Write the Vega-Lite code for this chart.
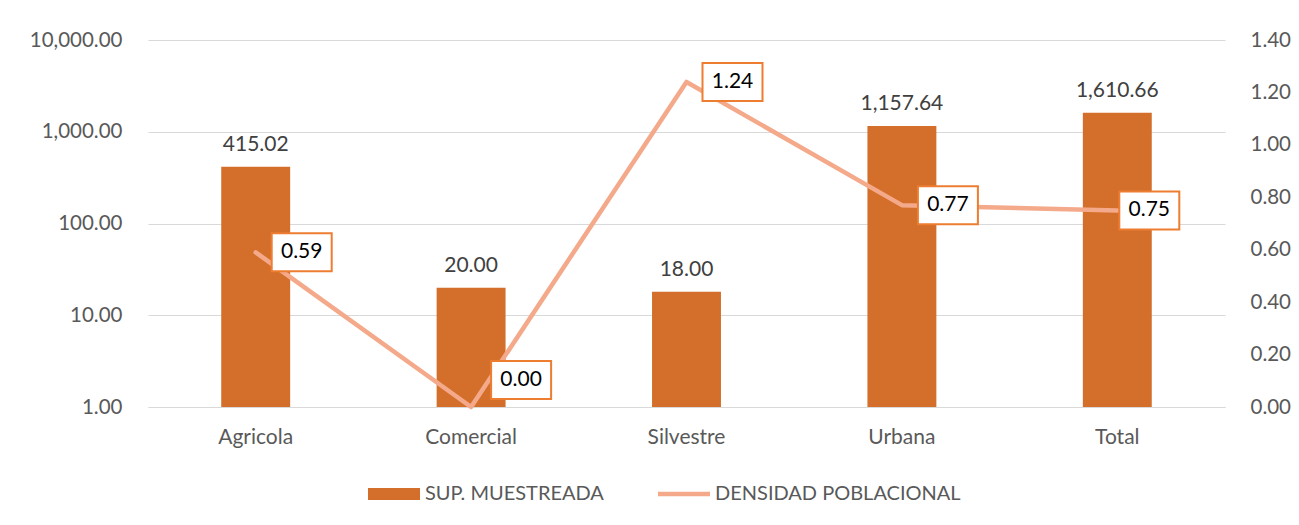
{
  "$schema": "https://vega.github.io/schema/vega-lite/v6.json",
  "width": 1077,
  "height": 367,
  "autosize": "none",
  "padding": {"left": 148, "top": 40, "right": 74, "bottom": 118},
  "background": "white",
  "config": {
    "font": "Lato",
    "view": {"stroke": null},
    "axis": {"labelFont": "Lato", "labelFontSize": 20.5, "labelColor": "#595959", "title": null}
  },
  "data": {
    "values": [
      {"cat": "Agricola", "sup": 415.02, "den": 0.59},
      {"cat": "Comercial", "sup": 20.0, "den": 0.0},
      {"cat": "Silvestre", "sup": 18.0, "den": 1.24},
      {"cat": "Urbana", "sup": 1157.64, "den": 0.77},
      {"cat": "Total", "sup": 1610.66, "den": 0.75}
    ]
  },
  "encoding": {
    "x": {
      "field": "cat",
      "type": "nominal",
      "sort": null,
      "scale": {"paddingInner": 0, "paddingOuter": 0},
      "axis": {"title": null, "labelAngle": 0, "ticks": false, "domainColor": "#D9D9D9", "domainWidth": 1, "labelPadding": 19, "grid": false, "labelFontSize": 21}
    }
  },
  "layer": [
    {
      "encoding": {
        "y": {
          "field": "sup",
          "type": "quantitative",
          "scale": {"type": "log", "domain": [1, 10000]},
          "axis": {"values": [1, 10, 100, 1000, 10000], "format": ",.2f", "domain": false, "ticks": false, "labelPadding": 26, "gridColor": "#D9D9D9", "gridWidth": 1, "grid": true}
        }
      },
      "layer": [
        {
          "mark": {"type": "bar", "width": {"band": 0.32}},
          "encoding": {
            "y2": {"datum": 1},
            "color": {
              "datum": "SUP. MUESTREADA",
              "scale": {"domain": ["SUP. MUESTREADA", "DENSIDAD POBLACIONAL"], "range": ["#D36F2A", "#F4A98A"]},
              "legend": {
                "orient": "none",
                "legendX": 220,
                "legendY": 428,
                "direction": "horizontal",
                "title": null,
                "labelFontSize": 20,
                "labelColor": "#595959",
                "labelFont": "Lato",
                "labelLimit": 500,
                "symbolSize": 2704,
                "labelOffset": 5,
                "columnPadding": 54,
                "encode": {
                  "symbols": {
                    "update": {
                      "shape": {"signal": "datum.value === 'SUP. MUESTREADA' ? 'M-1,-0.23H1V0.23H-1Z' : 'M-1,-0.09H1V0.09H-1Z'"},
                      "fill": {"signal": "datum.value === 'SUP. MUESTREADA' ? '#D36F2A' : '#F4A98A'"},
                      "stroke": {"value": "transparent"},
                      "strokeWidth": {"value": 0},
                      "opacity": {"value": 1}
                    }
                  }
                }
              }
            }
          }
        },
        {
          "mark": {"type": "text", "dy": -16, "baseline": "alphabetic", "fontSize": 21, "color": "#404040", "font": "Lato"},
          "encoding": {"text": {"field": "sup", "type": "quantitative", "format": ",.2f"}}
        }
      ]
    },
    {
      "encoding": {
        "y": {
          "field": "den",
          "type": "quantitative",
          "scale": {"domain": [0, 1.4]},
          "axis": {"orient": "right", "values": [0, 0.2, 0.4, 0.6, 0.8, 1.0, 1.2, 1.4], "format": ".2f", "domain": false, "ticks": false, "grid": false, "labelPadding": 25}
        }
      },
      "layer": [
        {
          "mark": {"type": "line", "strokeWidth": 4.5, "strokeCap": "round", "strokeJoin": "round"},
          "encoding": {
            "color": {
              "datum": "DENSIDAD POBLACIONAL",
              "scale": {"domain": ["SUP. MUESTREADA", "DENSIDAD POBLACIONAL"], "range": ["#D36F2A", "#F4A98A"]}
            }
          }
        },
        {
          "transform": [{"filter": "datum.cat !== 'Comercial' && datum.cat !== 'Total'"}],
          "layer": [
            {"mark": {"type": "point", "shape": "M-1.5,-0.95H1.5V0.95H-1.5Z", "size": 1600, "filled": true, "fill": "white", "stroke": "#ED7D31", "strokeWidth": 2, "opacity": 1, "xOffset": 46}},
            {"mark": {"type": "text", "fontSize": 21, "color": "#000000", "xOffset": 46, "font": "Lato"}, "encoding": {"text": {"field": "den", "type": "quantitative", "format": ".2f"}}}
          ]
        },
        {
          "transform": [{"filter": "datum.cat === 'Comercial'"}],
          "layer": [
            {"mark": {"type": "point", "shape": "M-1.5,-0.95H1.5V0.95H-1.5Z", "size": 1600, "filled": true, "fill": "white", "stroke": "#ED7D31", "strokeWidth": 2, "opacity": 1, "xOffset": 50, "yOffset": -27}},
            {"mark": {"type": "text", "fontSize": 21, "color": "#000000", "xOffset": 50, "yOffset": -27, "font": "Lato"}, "encoding": {"text": {"field": "den", "type": "quantitative", "format": ".2f"}}}
          ]
        },
        {
          "transform": [{"filter": "datum.cat === 'Total'"}],
          "layer": [
            {"mark": {"type": "point", "shape": "M-1.5,-0.95H1.5V0.95H-1.5Z", "size": 1600, "filled": true, "fill": "white", "stroke": "#ED7D31", "strokeWidth": 2, "opacity": 1, "xOffset": 32}},
            {"mark": {"type": "text", "fontSize": 21, "color": "#000000", "xOffset": 32, "font": "Lato"}, "encoding": {"text": {"field": "den", "type": "quantitative", "format": ".2f"}}}
          ]
        }
      ]
    }
  ],
  "resolve": {"scale": {"y": "independent"}}
}
